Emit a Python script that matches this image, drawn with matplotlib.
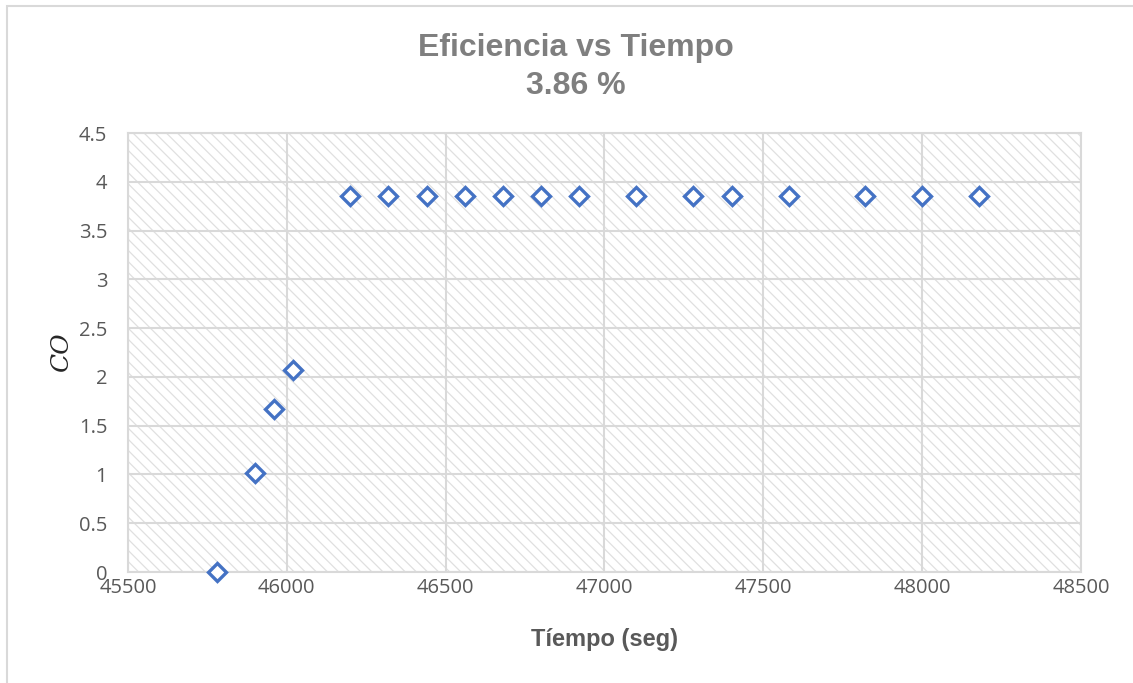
import matplotlib.pyplot as plt
from matplotlib.patches import Rectangle

plt.rcParams["hatch.linewidth"] = 0.9

tiempo = [45780, 45900, 45960, 46020, 46200, 46320, 46440, 46560, 46680,
          46800, 46920, 47100, 47280, 47400, 47580, 47820, 48000, 48180]
co = [0.0, 1.02, 1.67, 2.07, 3.86, 3.86, 3.86, 3.86, 3.86,
      3.86, 3.86, 3.86, 3.86, 3.86, 3.86, 3.86, 3.86, 3.86]

x_ticks = [45500, 46000, 46500, 47000, 47500, 48000, 48500]
y_ticks = [0, 0.5, 1, 1.5, 2, 2.5, 3, 3.5, 4, 4.5]
y_labels = ["0", "0.5", "1", "1.5", "2", "2.5", "3", "3.5", "4", "4.5"]

fig = plt.figure(figsize=(11.33, 6.83), dpi=100)
fig.patches.append(Rectangle((7 / 1133, -0.01), 1.01, 1 - 6 / 683 + 0.01,
                             transform=fig.transFigure, fill=False,
                             edgecolor="#d9d9d9", linewidth=1.5))

ax = fig.add_axes([0.113, 0.1625, 0.841, 0.6425])
# hatched plot area
ax.add_patch(Rectangle((0, 0), 1, 1, transform=ax.transAxes, facecolor="white",
                       edgecolor="#e0e0e0", linewidth=0, hatch="\\\\\\", zorder=0))
ax.set_xlim(45500, 48500)
ax.set_ylim(0, 4.5)
ax.set_xticks(x_ticks)
ax.set_yticks(y_ticks)
ax.set_yticklabels(y_labels)
ax.grid(True, color="#d9d9d9", linewidth=1.5, zorder=1)
for s in ax.spines.values():
    s.set_color("#d9d9d9")
    s.set_linewidth(1.5)
ax.tick_params(length=0, labelsize=14.5, labelcolor="#595959")
ax.tick_params(axis="x", pad=4)
ax.tick_params(axis="y", pad=15)
for lbl in ax.get_xticklabels() + ax.get_yticklabels():
    lbl.set_family("Open Sans")

ax.plot(tiempo, co, linestyle="none", marker="D", markersize=9,
        markerfacecolor="white", markeredgecolor="#4472C4",
        markeredgewidth=2.4, clip_on=False, zorder=5)

ax.set_xlabel("Tíempo (seg)", fontsize=17, fontweight="bold", color="#595959",
              family="Liberation Sans", labelpad=22)
ax.set_ylabel("CO", fontsize=18, fontstyle="italic", color="#262626",
              family="DejaVu Serif", labelpad=4)

fig.text(0.508, 0.929, "Eficiencia vs Tiempo", ha="center", va="center",
         fontsize=23, fontweight="bold", color="#7f7f7f", family="Liberation Sans")
fig.text(0.508, 0.874, "3.86 %", ha="center", va="center",
         fontsize=23, fontweight="bold", color="#7f7f7f", family="Liberation Sans")

fig.savefig("out.png", dpi=100)
